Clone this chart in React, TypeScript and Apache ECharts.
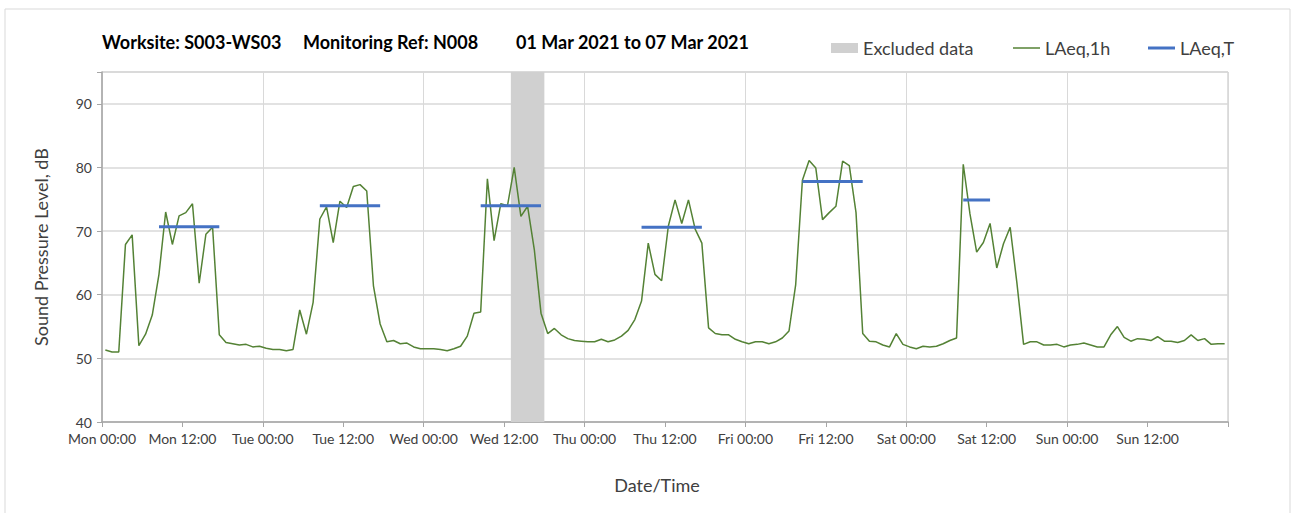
import React, { useEffect, useRef } from "react";
import * as echarts from "echarts";

const dayNames = ["Mon", "Tue", "Wed", "Thu", "Fri", "Sat", "Sun"];

const hourlyLevels = [
  // Mon
  51.3, 51.0, 51.0, 67.9, 69.4, 52.0, 53.8, 56.8, 63.2, 73.0, 67.9, 72.4, 72.9, 74.3, 61.8, 69.5, 70.6, 53.7, 52.5, 52.3, 52.1, 52.2, 51.8, 51.9,
  // Tue
  51.6, 51.4, 51.4, 51.2, 51.4, 57.6, 53.8, 58.8, 71.9, 73.8, 68.2, 74.7, 73.7, 77.0, 77.3, 76.3, 61.4, 55.4, 52.6, 52.8, 52.3, 52.4, 51.8, 51.5,
  // Wed
  51.5, 51.5, 51.4, 51.2, 51.5, 51.9, 53.5, 57.1, 57.3, 78.2, 68.5, 74.3, 74.0, 80.0, 72.3, 73.9, 67.1, 57.1, 53.9, 54.7, 53.7, 53.1, 52.8, 52.7,
  // Thu
  52.6, 52.6, 53.0, 52.6, 52.9, 53.5, 54.4, 56.1, 59.0, 68.1, 63.2, 62.2, 70.8, 74.9, 71.2, 74.9, 70.3, 68.1, 54.8, 53.9, 53.7, 53.7, 53.0, 52.6,
  // Fri
  52.3, 52.6, 52.6, 52.3, 52.6, 53.2, 54.3, 61.6, 78.0, 81.1, 79.9, 71.8, 72.9, 73.9, 81.0, 80.3, 72.9, 53.9, 52.7, 52.6, 52.1, 51.8, 53.9, 52.2,
  // Sat
  51.8, 51.5, 51.9, 51.8, 51.9, 52.3, 52.8, 53.2, 80.5, 72.7, 66.7, 68.2, 71.2, 64.2, 68.0, 70.6, 61.9, 52.2, 52.6, 52.6, 52.1, 52.1, 52.2, 51.8,
  // Sun
  52.1, 52.2, 52.4, 52.1, 51.8, 51.8, 53.7, 55.0, 53.3, 52.7, 53.1, 53.0, 52.8, 53.4, 52.7, 52.7, 52.5, 52.8, 53.7, 52.8, 53.1, 52.2, 52.3, 52.3,
];

const periodStartHour = [8, 32, 56, 80, 104, 128];
const periodEndHour = [17, 41, 65, 89, 113, 132];
const periodLevels = [70.7, 74.0, 74.0, 70.6, 77.8, 74.9];

const excludedFrom = 61;
const excludedTo = 66;

const titleParts = ["Worksite: S003-WS03", "Monitoring Ref: N008", "01 Mar 2021 to 07 Mar 2021"];

const FONT = "Lato, 'Open Sans', sans-serif";
const GREEN = "#548235";
const BLUE = "#4472C4";

export default function App() {
  const ref = useRef<HTMLDivElement>(null);

  useEffect(() => {
    document.body.style.margin = "0";
    if (!ref.current) return;
    const chart = echarts.init(ref.current, undefined, { renderer: "svg" });

    const hourlyData = hourlyLevels.map((v, i) => [i + 0.5, v]);
    const periodData: any[] = [];
    periodLevels.forEach((v, k) => {
      for (let h = periodStartHour[k]; h <= periodEndHour[k]; h++) {
        periodData.push([h + 0.5, v]);
      }
      periodData.push([periodEndHour[k] + 1, null]);
    });

    const axisGrey = "#A6A6A6";
    const gridGrey = "#D9D9D9";
    const legendText = { fontSize: 18, color: "#404040", fontFamily: FONT };

    chart.setOption({
      animation: false,
      textStyle: { fontFamily: FONT },
      grid: {
        left: 102,
        top: 72,
        right: 67,
        bottom: 91,
        show: true,
        borderColor: "#BFBFBF",
        borderWidth: 1,
      },
      graphic: [
        {
          type: "rect",
          shape: { x: 5, y: 9, width: 1285, height: 520 },
          style: { fill: "none", stroke: "#D9D9D9", lineWidth: 1 },
          silent: true,
        },
        {
          type: "text",
          left: 102,
          top: 33,
          style: { text: titleParts[0], font: `bold 18px ${FONT}`, fill: "#000" },
        },
        {
          type: "text",
          left: 303,
          top: 33,
          style: { text: titleParts[1], font: `bold 18px ${FONT}`, fill: "#000" },
        },
        {
          type: "text",
          left: 516,
          top: 33,
          style: { text: titleParts[2], font: `bold 18px ${FONT}`, fill: "#000" },
        },
      ],
      legend: [
        {
          data: [{ name: "Excluded data", icon: "rect" }],
          left: 826,
          top: 34,
          itemWidth: 27,
          itemHeight: 10,
          selectedMode: false,
          textStyle: legendText,
        },
        {
          data: [{ name: "LAeq,1h", icon: "rect", itemStyle: { color: GREEN } }],
          left: 1008,
          top: 34,
          itemWidth: 27,
          itemHeight: 1.5,
          selectedMode: false,
          textStyle: legendText,
        },
        {
          data: [{ name: "LAeq,T", icon: "rect", itemStyle: { color: BLUE } }],
          left: 1143,
          top: 34,
          itemWidth: 27,
          itemHeight: 3,
          selectedMode: false,
          textStyle: legendText,
        },
      ],
      xAxis: [
        {
          type: "value",
          min: 0,
          max: 168,
          interval: 12,
          name: "Date/Time",
          nameLocation: "middle",
          nameGap: 54,
          nameTextStyle: { fontSize: 18, color: "#404040", padding: [0, 16, 0, 0] },
          axisLine: { show: true, onZero: false, lineStyle: { color: axisGrey, width: 1.5 } },
          axisTick: { show: true, length: 5, lineStyle: { color: axisGrey } },
          axisLabel: {
            fontSize: 14,
            color: "#404040",
            margin: 9,
            formatter: (v: number) => {
              if (v >= 168) return "";
              const d = Math.floor(v / 24);
              const h = v % 24;
              return `${dayNames[d]} ${h === 0 ? "00" : "12"}:00`;
            },
          },
          splitLine: { show: false },
        },
        {
          type: "value",
          min: 0,
          max: 168,
          interval: 24,
          position: "bottom",
          axisLine: { show: false },
          axisTick: { show: false },
          axisLabel: { show: false },
          splitLine: { show: true, lineStyle: { color: gridGrey, width: 1 } },
        },
      ],
      yAxis: {
        type: "value",
        min: 40,
        max: 95,
        interval: 10,
        name: "Sound Pressure Level, dB",
        nameLocation: "middle",
        nameGap: 52,
        nameTextStyle: { fontSize: 18, color: "#404040" },
        axisLine: { show: true, lineStyle: { color: axisGrey, width: 1.5 } },
        axisTick: { show: true, length: 5, lineStyle: { color: axisGrey } },
        axisLabel: {
          fontSize: 14,
          color: "#404040",
          margin: 10,
          formatter: (v: number) => (v > 90 ? "" : String(v)),
        },
        splitLine: { show: true, lineStyle: { color: gridGrey, width: 1.5 } },
      },
      series: [
        {
          name: "Excluded data",
          type: "bar",
          data: [],
          z: 1,
          itemStyle: { color: "#D0D0D0" },
          markArea: {
            silent: true,
            itemStyle: { color: "#D0D0D0" },
            data: [[{ xAxis: excludedFrom }, { xAxis: excludedTo }]],
          },
        },
        {
          name: "LAeq,1h",
          type: "line",
          data: hourlyData,
          symbol: "none",
          z: 3,
          lineStyle: { color: GREEN, width: 1.5 },
          itemStyle: { color: GREEN },
        },
        {
          name: "LAeq,T",
          type: "line",
          data: periodData,
          symbol: "none",
          connectNulls: false,
          z: 4,
          lineStyle: { color: BLUE, width: 3 },
          itemStyle: { color: BLUE },
        },
      ],
    });

    return () => chart.dispose();
  }, []);

  return <div ref={ref} style={{ width: 1295, height: 513 }} />;
}
